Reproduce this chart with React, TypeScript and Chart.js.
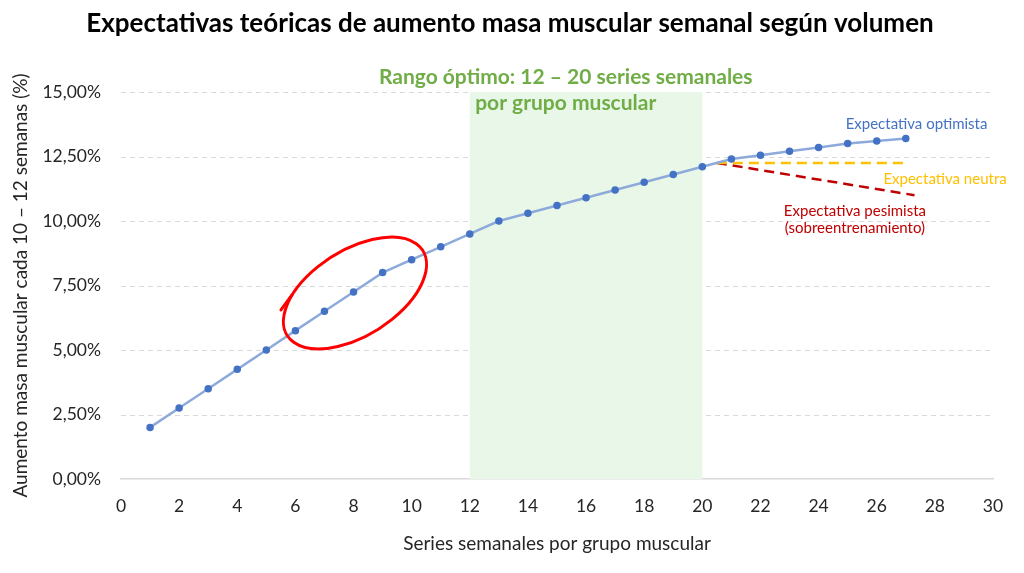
import React, { useEffect, useRef } from "react";
import { Chart, registerables } from "chart.js";
Chart.register(...registerables);

// ---- Data ----
const seriesX = [1, 2, 3, 4, 5, 6, 7, 8, 9, 10, 11, 12, 13, 14, 15, 16, 17, 18, 19, 20, 21, 22, 23, 24, 25, 26, 27];
const optimista = [2.0, 2.75, 3.5, 4.25, 5.0, 5.75, 6.5, 7.25, 8.0, 8.5, 9.0, 9.5, 10.0, 10.3, 10.6, 10.9, 11.2, 11.5, 11.8, 12.1, 12.4, 12.55, 12.7, 12.85, 13.0, 13.1, 13.2];
const neutraX = [20.5, 27];
const neutraY = [12.25, 12.25];
const pesimistaX = [20.5, 27.3];
const pesimistaY = [12.25, 11.0];
const rangoOptimo = [12, 20];
const xTicksMax = 30;
const yTicksMax = 15;

const TITLE = "Expectativas teóricas de aumento masa muscular semanal según volumen";
const X_TITLE = "Series semanales por grupo muscular";
const Y_TITLE = "Aumento masa muscular cada 10 – 12 semanas (%)";
const RANGO_LINES = ["Rango óptimo: 12 – 20 series semanales", "por grupo muscular"];

const FONT = "Lato, 'Noto Sans', sans-serif";

// annotation label placement (data coordinates)
const labelNotes = [
  { text: "Expectativa optimista", x: 27.37, y: 13.76, color: "#4472c4" },
  { text: "Expectativa neutra", x: 28.35, y: 11.63, color: "#ffc000" },
  { text: "Expectativa pesimista", x: 25.25, y: 10.39, color: "#c00000" },
  { text: "(sobreentrenamiento)", x: 25.25, y: 9.74, color: "#c00000" },
];

const toXY = (xs: number[], ys: number[]) => xs.map((x, i) => ({ x, y: ys[i] }));

const gridBandPlugin = {
  id: "gridBand",
  beforeDatasetsDraw(chart: any) {
    const { ctx, chartArea, scales } = chart;
    ctx.save();
    // dashed horizontal gridlines
    ctx.strokeStyle = "#d9d9d9";
    ctx.lineWidth = 1;
    ctx.setLineDash([5, 4]);
    scales.y.ticks.forEach((t: any) => {
      if (t.value === 0) return;
      const y = Math.round(scales.y.getPixelForValue(t.value)) + 0.5;
      ctx.beginPath();
      ctx.moveTo(chartArea.left, y);
      ctx.lineTo(chartArea.right, y);
      ctx.stroke();
    });
    ctx.setLineDash([]);
    // optimal range band
    const x0 = scales.x.getPixelForValue(rangoOptimo[0]);
    const x1 = scales.x.getPixelForValue(rangoOptimo[1]);
    ctx.fillStyle = "#e8f7e8";
    ctx.fillRect(x0, chartArea.top, x1 - x0, chartArea.bottom - chartArea.top);
    ctx.restore();
  },
};

const notesPlugin = {
  id: "notes",
  afterDatasetsDraw(chart: any) {
    const { ctx, scales, width } = chart;
    ctx.save();
    ctx.textAlign = "center";
    ctx.textBaseline = "middle";
    // chart title
    ctx.fillStyle = "#000";
    ctx.font = `bold 26px ${FONT}`;
    ctx.fillText(TITLE, width / 2 - 2, 24);

    // band label
    ctx.fillStyle = "#70ad47";
    ctx.font = `bold 21px ${FONT}`;
    const cx = scales.x.getPixelForValue(15.3);
    ctx.fillText(RANGO_LINES[0], cx, 77);
    ctx.fillText(RANGO_LINES[1], cx, 103);

    // series labels
    ctx.font = `15px ${FONT}`;
    labelNotes.forEach((n) => {
      ctx.fillStyle = n.color;
      ctx.fillText(n.text, scales.x.getPixelForValue(n.x), scales.y.getPixelForValue(n.y));
    });

    // hand-drawn red ellipse
    const ex = scales.x.getPixelForValue(8.05);
    const ey = scales.y.getPixelForValue(7.21);
    ctx.strokeStyle = "#ff0000";
    ctx.lineWidth = 3;
    ctx.lineCap = "round";
    ctx.beginPath();
    ctx.ellipse(ex, ey, 80, 43, (-32 * Math.PI) / 180, Math.PI * 0.93, Math.PI * 2.93 + 0.05);
    ctx.stroke();
    ctx.beginPath();
    ctx.moveTo(ex - 63, ey + 2);
    ctx.lineTo(ex - 74, ey + 17);
    ctx.stroke();
    ctx.restore();
  },
};

export default function App() {
  const ref = useRef<HTMLCanvasElement | null>(null);
  useEffect(() => {
    document.body.style.margin = "0";
    if (!ref.current) return;
    const chart = new Chart(ref.current, {
      type: "scatter",
      data: {
        datasets: [
          {
            label: "Expectativa optimista",
            data: toXY(seriesX, optimista),
            showLine: true,
            borderColor: "#8eaadb",
            borderWidth: 2.5,
            pointBackgroundColor: "#4472c4",
            pointBorderColor: "#4472c4",
            pointRadius: 2.5,
            order: 0,
          },
          {
            label: "Expectativa neutra",
            data: toXY(neutraX, neutraY),
            showLine: true,
            borderColor: "#ffc000",
            borderWidth: 2.5,
            borderDash: [10, 6],
            pointRadius: 0,
            order: 1,
          },
          {
            label: "Expectativa pesimista",
            data: toXY(pesimistaX, pesimistaY),
            showLine: true,
            borderColor: "#c00000",
            borderWidth: 2.5,
            borderDash: [10, 6],
            pointRadius: 0,
            order: 2,
          },
        ],
      },
      options: {
        responsive: false,
        animation: false,
        layout: { padding: { left: 5, right: 31, top: 92, bottom: 13.6 } },
        plugins: {
          legend: { display: false },
          tooltip: { enabled: false },
          title: { display: false },
        },
        scales: {
          x: {
            type: "linear",
            min: 0,
            max: xTicksMax,
            ticks: { stepSize: 2, color: "#262626", font: { family: FONT, size: 17.5 }, padding: 17 },
            grid: { display: false, drawTicks: false },
            border: { display: true, color: "#d9d9d9", width: 1.5 },
            title: { display: true, text: X_TITLE, color: "#262626", font: { family: FONT, size: 19 }, padding: { top: 4, bottom: 4 } },
            afterFit: (s: any) => { s.height = 80.4; },
          },
          y: {
            min: 0,
            max: yTicksMax,
            ticks: {
              stepSize: 2.5,
              color: "#262626",
              font: { family: FONT, size: 17.5 },
              padding: 20,
              callback: (v: any) => Number(v).toFixed(2).replace(".", ",") + "%",
            },
            grid: { display: false, drawTicks: false },
            border: { display: false },
            title: { display: true, text: Y_TITLE, color: "#262626", font: { family: FONT, size: 19 }, padding: { top: 4, bottom: 4 } },
            afterFit: (s: any) => { s.width = 116; },
          },
        },
      },
      plugins: [gridBandPlugin, notesPlugin],
    } as any);
    return () => chart.destroy();
  }, []);
  return (
    <div style={{ position: "absolute", left: 0, top: 0, width: 1024, height: 573 }}>
      <canvas ref={ref} width={1024} height={573} />
    </div>
  );
}
